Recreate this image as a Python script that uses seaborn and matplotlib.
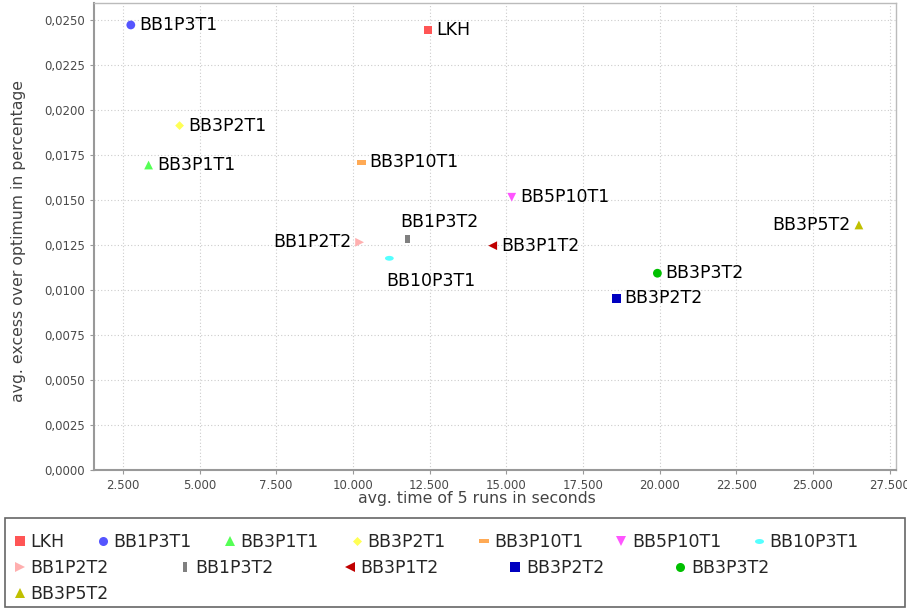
import numpy as np
import pandas as pd
import seaborn as sns
import matplotlib.pyplot as plt
from matplotlib.lines import Line2D
from matplotlib.patches import Rectangle
from matplotlib.path import Path
from matplotlib.transforms import Affine2D
from matplotlib.ticker import FuncFormatter, MultipleLocator

names = ['LKH', 'BB1P3T1', 'BB3P1T1', 'BB3P2T1', 'BB3P10T1', 'BB5P10T1', 'BB10P3T1',
         'BB1P2T2', 'BB1P3T2', 'BB3P1T2', 'BB3P2T2', 'BB3P3T2', 'BB3P5T2']
avg_time = [12450, 2760, 3340, 4350, 10270, 15180, 11190,
            10220, 11780, 14560, 18590, 19930, 26500]
avg_excess = [0.02444, 0.02472, 0.01694, 0.01913, 0.01709, 0.01515, 0.01176,
              0.01265, 0.01283, 0.01246, 0.00954, 0.01093, 0.01361]
colors = ['#ff5555', '#5555ff', '#55ff55', '#ffff55', '#ffaa55', '#ff55ff', '#55ffff',
          '#ffafaf', '#808080', '#c00000', '#0000c0', '#00c000', '#c0c000']

df = pd.DataFrame({'name': names, 'time': avg_time, 'excess': avg_excess})

# jfreechart-like shape sequence
hrect = Path([(-1, -0.5), (1, -0.5), (1, 0.5), (-1, 0.5), (-1, -0.5)],
             [1, 2, 2, 2, 79])
vrect = Path([(-0.5, -1), (0.5, -1), (0.5, 1), (-0.5, 1), (-0.5, -1)],
             [1, 2, 2, 2, 79])
diamond = Path([(0, 1), (1, 0), (0, -1), (-1, 0), (0, 1)], [1, 2, 2, 2, 79])
hellipse = Affine2D().scale(1, 0.55).transform_path(Path.unit_circle())
shapes = ['s', 'o', '^', diamond, hrect, 'v', hellipse, '>', vrect, '<', 's', 'o', '^']

palette = dict(zip(names, colors))
marker_map = dict(zip(names, shapes))

# label placement: (dx, dy) in points, horizontal alignment
label_pos = {n: (6, 0, 'left') for n in names}
label_pos['BB1P2T2'] = (-6, 0, 'right')
label_pos['BB3P5T2'] = (-6, 0, 'right')
label_pos['BB1P3T2'] = (-5, 12, 'left')
label_pos['BB10P3T1'] = (-2, -16, 'left')

sns.set_style('white')
plt.rcParams['font.family'] = ['DejaVu Sans']

fig = plt.figure(figsize=(9.07, 6.09), dpi=100)
ax = fig.add_axes([94 / 907, 1 - 470 / 609, 802 / 907, 467 / 609])

sns.scatterplot(data=df, x='time', y='excess', hue='name', style='name',
                palette=palette, markers=marker_map, s=40, linewidth=0,
                legend=False, ax=ax)

for n, x, y in zip(names, avg_time, avg_excess):
    dx, dy, ha = label_pos[n]
    ax.annotate(n, (x, y), xytext=(dx, dy), textcoords='offset points',
                ha=ha, va='center', fontsize=12.5, color='black')

ax.set_xlim(1560, 27710)
ax.set_ylim(0, 0.02594)
ax.xaxis.set_major_locator(MultipleLocator(2500))
ax.yaxis.set_major_locator(MultipleLocator(0.0025))
ax.xaxis.set_major_formatter(FuncFormatter(lambda v, p: f'{v:,.0f}'.replace(',', '.')))
ax.yaxis.set_major_formatter(FuncFormatter(lambda v, p: f'{v:.4f}'.replace('.', ',')))
ax.tick_params(axis='both', labelsize=8.5, labelcolor='#4a4a4a', color='#999999',
               length=3, width=0.8, direction='out', bottom=True, left=True)
ax.grid(True, color='#cccccc', linestyle=(0, (1, 2)), linewidth=0.8)
for s in ax.spines.values():
    s.set_color('#bbbbbb')
    s.set_linewidth(1.0)
ax.spines['left'].set_color('#999999')
ax.spines['bottom'].set_color('#999999')
ax.spines['left'].set_linewidth(1.5)
ax.spines['bottom'].set_linewidth(1.5)

ax.set_xlabel('avg. time of 5 runs in seconds', fontsize=11.3, color='#444444')
ax.set_ylabel('avg. excess over optimum in percentage', fontsize=11.3, color='#444444')
ax.xaxis.set_label_coords(0.4776, -0.046)
ax.yaxis.set_label_coords(-0.085, 0.49)

# legend: box plus three flowing rows
fig.add_artist(Rectangle((5 / 907, 1 - 607 / 609), 900 / 907, 89 / 609,
                         transform=fig.transFigure, fill=False,
                         edgecolor='#666666', linewidth=1.2))

def handle(n):
    return Line2D([], [], linestyle='none', marker=marker_map[n],
                  markerfacecolor=palette[n], markeredgewidth=0,
                  markersize=6.5)

rows = [names[:7], names[7:12], names[12:]]
row_y = [1 - 542 / 609, 1 - 568 / 609, 1 - 594 / 609]
row_spacing = [1.9, 4.1, 1.0]
for r, yy, cs in zip(rows, row_y, row_spacing):
    fig.legend([handle(n) for n in r], r, loc='center left',
               bbox_to_anchor=(15 / 907, yy), ncol=len(r), frameon=False,
               fontsize=12.5, handlelength=0.6, handletextpad=0.3,
               columnspacing=cs, borderpad=0, borderaxespad=0)

fig.savefig('out.png', dpi=100, facecolor='white')
